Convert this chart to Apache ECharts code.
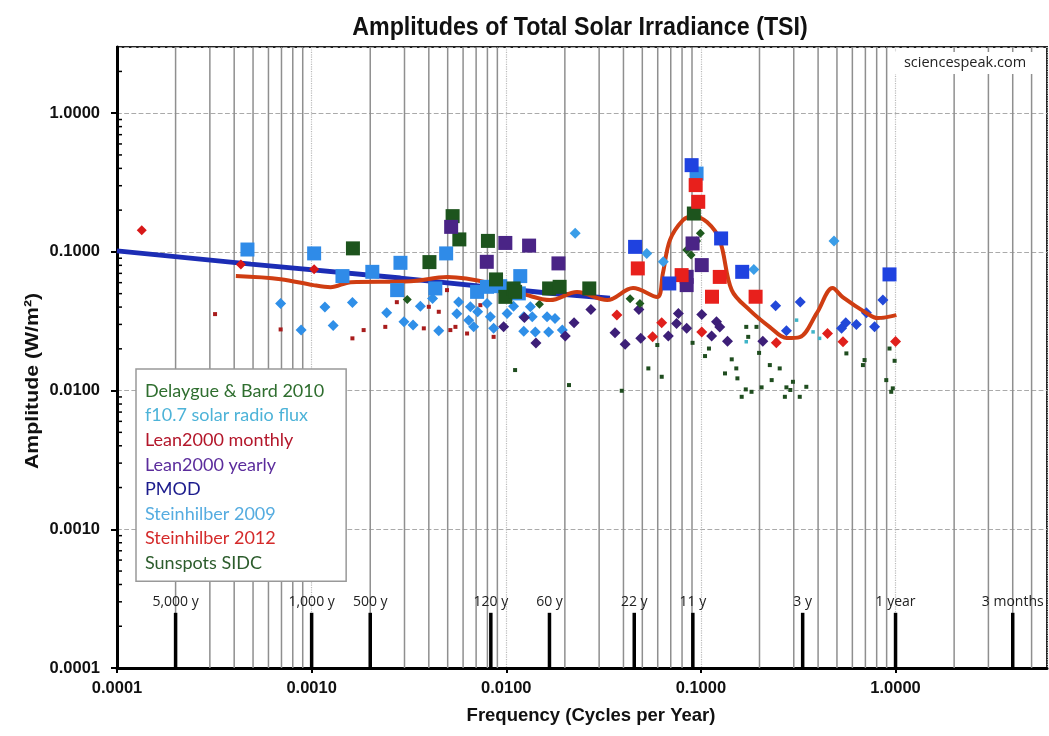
<!DOCTYPE html>
<html><head><meta charset="utf-8">
<script src="https://cdn.jsdelivr.net/npm/echarts@6/dist/echarts.min.js"></script>
<style>html,body{margin:0;padding:0;background:#fff}#c{width:1049px;height:736px}</style>
</head><body><div id="c"></div>
<script>
// ---------- titles ----------
const chartTitle = 'Amplitudes of Total Solar Irradiance (TSI)';
const xAxisTitle = 'Frequency (Cycles per Year)';
const yAxisTitle = 'Amplitude (W/m²)';
const sourceNote = 'sciencespeak.com';

// ---------- legend ----------
const legendNames = ['Delaygue & Bard 2010','f10.7 solar radio flux','Lean2000 monthly','Lean2000 yearly','PMOD','Steinhilber 2009','Steinhilber 2012','Sunspots SIDC'];
const legendColors = ['#2f6e2f','#4db3d8','#b3162a','#5b2c9c','#1b1b8c','#55ace0','#d42a2a','#2c5c2c'];

// ---------- period markers ----------
const periodFreqs  = [0.0002, 0.001, 0.002, 0.00833, 0.01667, 0.04545, 0.0909, 0.3333, 1, 4];
const periodLabels = ['5,000 y','1,000 y','500 y','120 y','60 y','22 y','11 y','3 y','1 year','3 months'];
const periodBarTop = 0.00025;
const periodBarBottom = 0.0001;

// ---------- series values [frequency, amplitude] ----------
const delaygueSquares = [[0.00163,0.106],[0.00403,0.0844],[0.0053,0.181],[0.00574,0.123],[0.00805,0.120],[0.00886,0.0633],[0.00989,0.0474],[0.0109,0.0545],[0.0111,0.0515],[0.0166,0.0545],[0.0188,0.056],[0.0267,0.0545],[0.092,0.189]];
const f107Diamonds = [[0.0226,0.136],[0.0527,0.0975],[0.0641,0.0848],[0.187,0.0747],[0.483,0.1196]];
const f107Dots = [[0.31,0.0322],[0.407,0.0238],[0.796,0.0288],[0.377,0.0265],[0.171,0.0225],[0.199,0.0331],[0.86,0.0335]];
const lean2000mSquares = [[0.0474,0.076],[0.0796,0.068],[0.094,0.303],[0.0969,0.2296],[0.114,0.0475],[0.125,0.066],[0.191,0.0475]];
const lean2000mDiamonds = [[0.037,0.035],[0.0629,0.0308],[0.0565,0.0244],[0.101,0.0265],[0.244,0.0221],[0.447,0.0258],[0.537,0.0225],[1.0,0.0226]];
const lean2000ySquares = [[0.00521,0.1515],[0.00989,0.116],[0.00794,0.0848],[0.0131,0.111],[0.01854,0.0826],[0.0845,0.0661],[0.0845,0.0576],[0.0906,0.115],[0.101,0.0803]];
const lean2000yDiamonds = [[0.00969,0.0289],[0.0124,0.0337],[0.0142,0.022],[0.0201,0.0248],[0.0223,0.0308],[0.0272,0.0385],[0.0362,0.0261],[0.0408,0.0216],[0.0491,0.0238],[0.048,0.0385],[0.068,0.0248],[0.075,0.0305],[0.0766,0.0359],[0.0845,0.0281],[0.101,0.0354],[0.1135,0.0248],[0.1203,0.0314],[0.125,0.0287],[0.137,0.0227],[0.208,0.0227]];
const pmodSquares = [[0.0459,0.1087],[0.0688,0.0592],[0.0896,0.422],[0.127,0.125],[0.163,0.0718],[0.931,0.0688]];
const pmodDiamonds = [[0.242,0.0409],[0.275,0.027],[0.324,0.0435],[0.528,0.0282],[0.555,0.0308],[0.629,0.030],[0.708,0.0364],[0.78,0.0288],[0.861,0.0449]];
const steinhilber09Squares = [[0.000468,0.104],[0.00103,0.0975],[0.00144,0.0669],[0.00205,0.0718],[0.00286,0.0834],[0.00275,0.053],[0.00491,0.0975],[0.00432,0.0545],[0.00708,0.0515],[0.00796,0.056],[0.00931,0.0566],[0.0109,0.053],[0.0116,0.0502],[0.0118,0.0669],[0.095,0.367]];
const steinhilber09Diamonds = [[0.000693,0.0425],[0.000883,0.0273],[0.00117,0.040],[0.00129,0.0295],[0.00162,0.0432],[0.00243,0.0364],[0.00298,0.0314],[0.00332,0.0297],[0.00362,0.0406],[0.0045,0.027],[0.00418,0.0462],[0.00569,0.0436],[0.00557,0.0358],[0.00641,0.0322],[0.0068,0.0288],[0.00713,0.037],[0.00796,0.0425],[0.00828,0.034],[0.00861,0.0281],[0.0101,0.036],[0.0109,0.0406],[0.0123,0.0268],[0.0123,0.034],[0.0136,0.034],[0.0133,0.0402],[0.0141,0.0265],[0.0162,0.034],[0.0165,0.0265],[0.0178,0.0331],[0.0194,0.0273],[0.00654,0.0402]];
const steinhilber12Diamonds = [[0.000134,0.1435],[0.000433,0.0811],[0.00103,0.0751]];
const steinhilber12Dots = [[0.000319,0.0356],[0.000693,0.0276],[0.00162,0.0238],[0.00185,0.0273],[0.00239,0.0288],[0.00274,0.0434],[0.00377,0.0281],[0.0040,0.0402],[0.0045,0.037],[0.00496,0.053],[0.00516,0.0273],[0.00548,0.0288],[0.00629,0.0258],[0.00736,0.0413],[0.00861,0.0244]];
const sunspotDiamonds = [[0.0031,0.0454],[0.0148,0.042],[0.0433,0.0459],[0.0486,0.0425],[0.0845,0.103],[0.0994,0.136],[0.095,0.12],[0.089,0.095]];
const sunspotDots = [[0.0111,0.01406],[0.021,0.01096],[0.0392,0.00997],[0.0537,0.01445],[0.0629,0.01258],[0.0597,0.0213],[0.0906,0.0221],[0.105,0.01774],[0.110,0.0201],[0.133,0.0133],[0.144,0.0168],[0.152,0.01445],[0.154,0.01225],[0.170,0.0102],[0.182,0.0098],[0.162,0.00902],[0.171,0.0288],[0.193,0.0288],[0.199,0.0187],[0.205,0.01055],[0.226,0.01527],[0.254,0.01445],[0.231,0.0119],[0.275,0.01055],[0.288,0.0101],[0.297,0.01157],[0.270,0.00902],[0.322,0.00902],[0.348,0.01065],[0.559,0.01854],[0.693,0.0166],[0.68,0.01527],[0.896,0.0119],[0.968,0.01038],[0.95,0.0098],[0.989,0.0164],[0.931,0.0201],[0.175,0.0244]];
const blueTrend = [[0.0001,0.1017],[0.000487,0.0816],[0.00286,0.0647],[0.0168,0.0504],[0.0341,0.0464]];
const redSmooth = [[0.000408,0.0669],[0.000693,0.0636],[0.00102,0.0576],[0.00125,0.0557],[0.00159,0.0605],[0.00322,0.0615],[0.00498,0.0658],[0.00828,0.0595],[0.0128,0.0488],[0.0168,0.0449],[0.0231,0.0513],[0.033,0.0449],[0.0448,0.0548],[0.0595,0.0472],[0.0638,0.0703],[0.0693,0.1216],[0.0809,0.1694],[0.091,0.181],[0.1074,0.164],[0.125,0.1216],[0.144,0.053],[0.178,0.038],[0.226,0.0287],[0.276,0.0239],[0.322,0.0243],[0.394,0.0362],[0.475,0.0548],[0.535,0.0472],[0.71,0.0362],[0.809,0.0333],[1.01,0.035]];

// ---------- axis range ----------
const xMin = 0.0001, xMax = 6, yMin = 0.0001, yMax = 3;

// log-axis minor grid / tick positions (2..9 within each decade)
const minorGridFreqs = [];
for (let e = -4; e <= 0; e++) for (let k = 2; k <= 9; k++) { const v = k * Math.pow(10, e); if (v < xMax) minorGridFreqs.push(v); }
const yMinorTicks = [];
for (let e = -4; e <= 0; e++) for (let k = 2; k <= 9; k++) { const v = k * Math.pow(10, e); if (v < yMax) yMinorTicks.push(v); }

const chart = echarts.init(document.getElementById('c'), null, {renderer: 'canvas'});

function isDecade(v){ const l = Math.log10(v); return Math.abs(l - Math.round(l)) < 1e-6; }

function scatter(name, data, symbol, size, color, z) {
  return { type: 'scatter', name, data, symbol, symbolSize: size, z: z || 4,
    itemStyle: { color, opacity: 1 }, silent: true };
}

const option = {
  animation: false,
  grid: { left: 117, right: 2, top: 47, bottom: 68, show: true, borderColor: '#222', borderWidth: 2, backgroundColor: 'transparent' },
  graphic: [
    { type: 'text', x: 580, y: 28, z: 10, scaleX: 0.93, style: { text: chartTitle, align: 'center', verticalAlign: 'middle', font: 'bold 25px "Liberation Sans", sans-serif', fill: '#111' } },
    { type: 'text', x: 591, y: 716, z: 10, style: { text: xAxisTitle, align: 'center', verticalAlign: 'middle', font: 'bold 18.5px "Liberation Sans", sans-serif', fill: '#111' } },
    { type: 'text', x: 33, y: 381, z: 10, rotation: Math.PI / 2, scaleX: 1.12, style: { text: yAxisTitle, align: 'center', verticalAlign: 'middle', font: 'bold 19px "Liberation Sans", sans-serif', fill: '#111' } },
    { type: 'rect', x: 888, y: 52, z: 9, shape: { width: 152, height: 22 }, style: { fill: '#fff' } },
    { type: 'text', x: 965, y: 63, z: 10, style: { text: sourceNote, align: 'center', verticalAlign: 'middle', font: '14.5px "Open Sans", sans-serif', fill: '#222' } }
  ],
  legend: {
    orient: 'vertical', left: 136, top: 369, selectedMode: false,
    padding: [13, 22, 9, 4], itemGap: 6.6, itemWidth: 0, itemHeight: 14, icon: 'none',
    backgroundColor: '#fff', borderColor: '#999', borderWidth: 1.5,
    textStyle: { fontFamily: 'Lato', fontSize: 18 },
    data: legendNames.map((n, i) => ({ name: n, textStyle: { color: legendColors[i] } }))
  },
  xAxis: {
    type: 'log', logBase: 10, min: xMin, max: xMax,
    axisLine: { lineStyle: { color: '#000', width: 3 } },
    axisTick: { show: true, length: 5, lineStyle: { color: '#000', width: 2 } },
    axisLabel: { fontFamily: 'Liberation Sans', fontWeight: 'bold', fontSize: 16.5, color: '#111', margin: 12, showMaxLabel: false,
      formatter: v => isDecade(v) ? v.toFixed(4) : '' },
    splitLine: { show: true, lineStyle: { color: '#bbb', type: 'dotted', width: 1.2 } }
  },
  yAxis: {
    type: 'log', logBase: 10, min: yMin, max: yMax,
    axisLine: { lineStyle: { color: '#000', width: 3 } },
    axisTick: { show: true, length: 6, lineStyle: { color: '#000', width: 2 } },
    axisLabel: { fontFamily: 'Liberation Sans', fontWeight: 'bold', fontSize: 16.5, color: '#111', margin: 17, showMaxLabel: false,
      formatter: v => isDecade(v) ? v.toFixed(4) : '' },
    splitLine: { show: true, lineStyle: { color: '#aaa', type: 'dashed', width: 1.2 } }
  },
  series: [
    { type: 'custom', name: 'minorGrid', silent: true, z: 1,
      data: minorGridFreqs.map(f => [f, yMin, yMax]), encode: { x: 0, y: [1, 2] },
      renderItem: (params, api) => {
        const a = api.coord([api.value(0), api.value(2)]);
        const b = api.coord([api.value(0), api.value(1)]);
        return { type: 'line', shape: { x1: a[0], y1: a[1], x2: b[0], y2: b[1] }, style: { stroke: '#8f8f8f', lineWidth: 1.5 } };
      } },
    { type: 'custom', name: 'yMinorTicks', silent: true, z: 5,
      data: yMinorTicks.map(v => [xMin, v]), encode: { x: 0, y: 1 },
      renderItem: (params, api) => {
        const p = api.coord([api.value(0), api.value(1)]);
        return { type: 'line', shape: { x1: p[0], y1: p[1], x2: p[0] + 5, y2: p[1] }, style: { stroke: '#000', lineWidth: 1.5 } };
      } },
    { type: 'custom', name: 'periods', silent: true, z: 5,
      data: periodFreqs.map(f => [f, periodBarBottom, periodBarTop]), encode: { x: 0, y: [1, 2] },
      renderItem: (params, api) => {
        const top = api.coord([api.value(0), api.value(2)]);
        const bot = api.coord([api.value(0), api.value(1)]);
        return { type: 'group', children: [
          { type: 'rect', shape: { x: top[0] - 1.75, y: top[1], width: 3.5, height: bot[1] - top[1] }, style: { fill: '#000' } },
          { type: 'text', style: { text: periodLabels[params.dataIndex], x: top[0], y: top[1] - 4, align: 'center', verticalAlign: 'bottom', font: '14px "Open Sans", sans-serif', fill: '#222' } }
        ] };
      } },
    scatter('Sunspots SIDC', sunspotDots, 'rect', 4, '#1f4d1f', 3),
    scatter('f10.7 solar radio flux', f107Dots, 'rect', 3.5, '#3fb4c8', 3),
    scatter('Steinhilber 2012', steinhilber12Dots, 'rect', 4, '#a81c1c', 3),
    scatter('Steinhilber 2009', steinhilber09Diamonds, 'diamond', 11, '#2f8fe8', 3),
    scatter('Lean2000 yearly', lean2000yDiamonds, 'diamond', 11, '#3d1f78', 3),
    scatter('PMOD', pmodDiamonds, 'diamond', 11, '#2248d8', 3),
    scatter('Lean2000 monthly', lean2000mDiamonds, 'diamond', 11, '#e0201c', 3),
    scatter('Sunspots SIDC', sunspotDiamonds, 'diamond', 9, '#1f5a1f', 3),
    { type: 'line', name: 'trendBlue', data: blueTrend, symbol: 'none', z: 4, silent: true,
      lineStyle: { color: '#1c2db5', width: 5 } },
    { type: 'line', name: 'smoothRed', data: redSmooth, symbol: 'none', smooth: 0.35, z: 4, silent: true,
      lineStyle: { color: '#cf3d12', width: 4 } },
    scatter('f10.7 solar radio flux', f107Diamonds, 'diamond', 11, '#3a9de8', 5),
    scatter('Steinhilber 2012', steinhilber12Diamonds, 'diamond', 10, '#d81818', 5),
    scatter('Steinhilber 2009', steinhilber09Squares, 'rect', 14, '#2f8be8', 5),
    scatter('Delaygue & Bard 2010', delaygueSquares, 'rect', 14, '#1d541d', 5),
    scatter('Lean2000 yearly', lean2000ySquares, 'rect', 14, '#4a2486', 5),
    scatter('Lean2000 monthly', lean2000mSquares, 'rect', 14, '#e8201c', 5),
    scatter('PMOD', pmodSquares, 'rect', 14, '#1f42e0', 6)
  ]
};
chart.setOption(option);
</script>
</body></html>
